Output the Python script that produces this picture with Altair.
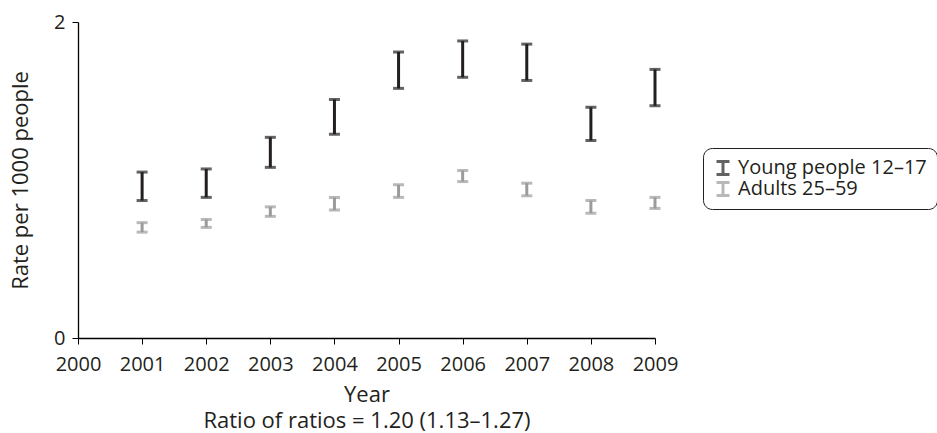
import altair as alt
import pandas as pd

years = [2001, 2002, 2003, 2004, 2005, 2006, 2007, 2008, 2009]
young_lo = [0.87, 0.89, 1.08, 1.29, 1.58, 1.65, 1.63, 1.25, 1.47]
young_hi = [1.05, 1.07, 1.27, 1.51, 1.81, 1.88, 1.86, 1.46, 1.70]
adult_lo = [0.67, 0.70, 0.77, 0.81, 0.89, 0.99, 0.90, 0.79, 0.82]
adult_hi = [0.73, 0.75, 0.83, 0.89, 0.97, 1.06, 0.98, 0.87, 0.89]
series = ["Young people 12\u201317", "Adults 25\u201359"]
colors = ["#231f20", "#9b9b9b"]
x_ticks = list(range(2000, 2010))
y_ticks = [0, 1, 2]

rows = []
for i, y in enumerate(years):
    rows.append({"year": y, "lo": young_lo[i], "hi": young_hi[i], "group": series[0]})
    rows.append({"year": y, "lo": adult_lo[i], "hi": adult_hi[i], "group": series[1]})
df = pd.DataFrame(rows)

FONT = "Open Sans"
TXT = "#231f20"

xenc = alt.X("year:Q",
             scale=alt.Scale(domain=[2000, 2009], nice=False, zero=False),
             axis=alt.Axis(values=x_ticks, format="d",
                           title=["Year", "Ratio of ratios = 1.20 (1.13\u20131.27)"],
                           titleLineHeight=26, titlePadding=10,
                           labelFontSize=20, titleFontSize=22, labelPadding=10,
                           labelFlush=False))
yscale = alt.Scale(domain=[0, 2], nice=False)
yaxis = alt.Axis(values=y_ticks, format="d", title="Rate per 1000 people",
                 labelFontSize=20, titleFontSize=22, titlePadding=21,
                 labelPadding=7)
color = alt.Color("group:N", scale=alt.Scale(domain=series, range=colors),
                  legend=alt.Legend(title=None, orient="none", legendX=625, legendY=126,
                                    symbolType="M-0.8,-0.8H0.8M0,-0.8V0.8M-0.8,0.8H0.8",
                                    symbolSize=264, symbolStrokeWidth=3,
                                    labelFontSize=20, labelFont=FONT, labelColor=TXT,
                                    labelLimit=0, clipHeight=20,
                                    strokeColor=TXT, cornerRadius=9, padding=10,
                                    rowPadding=1, labelOffset=5,
                                    symbolFillColor="transparent"))

base = alt.Chart(df)
rules = base.mark_rule(strokeWidth=3).encode(
    x=xenc,
    y=alt.Y("lo:Q", scale=yscale, axis=yaxis),
    y2="hi:Q",
    color=color,
)
lo_ticks = base.mark_tick(orient="horizontal", size=11, thickness=3).encode(
    x=xenc, y=alt.Y("lo:Q", scale=yscale, axis=yaxis), color=color)
hi_ticks = base.mark_tick(orient="horizontal", size=11, thickness=3).encode(
    x=xenc, y=alt.Y("hi:Q", scale=yscale, axis=yaxis), color=color)

chart = alt.layer(rules, lo_ticks, hi_ticks).properties(
    width=577, height=316,
    background="white",
    autosize=alt.AutoSizeParams(type="none"),
    padding={"left": 78, "top": 22, "right": 282, "bottom": 95},
).configure_view(stroke=None).configure_axis(
    grid=False, domainColor="#000000", tickColor="#000000", domainWidth=1.3,
    tickSize=6, labelColor=TXT, titleColor=TXT, labelFont=FONT, titleFont=FONT,
    titleFontWeight="normal",
)

chart.save("out.html", embed_options={"renderer": "svg", "actions": False})
